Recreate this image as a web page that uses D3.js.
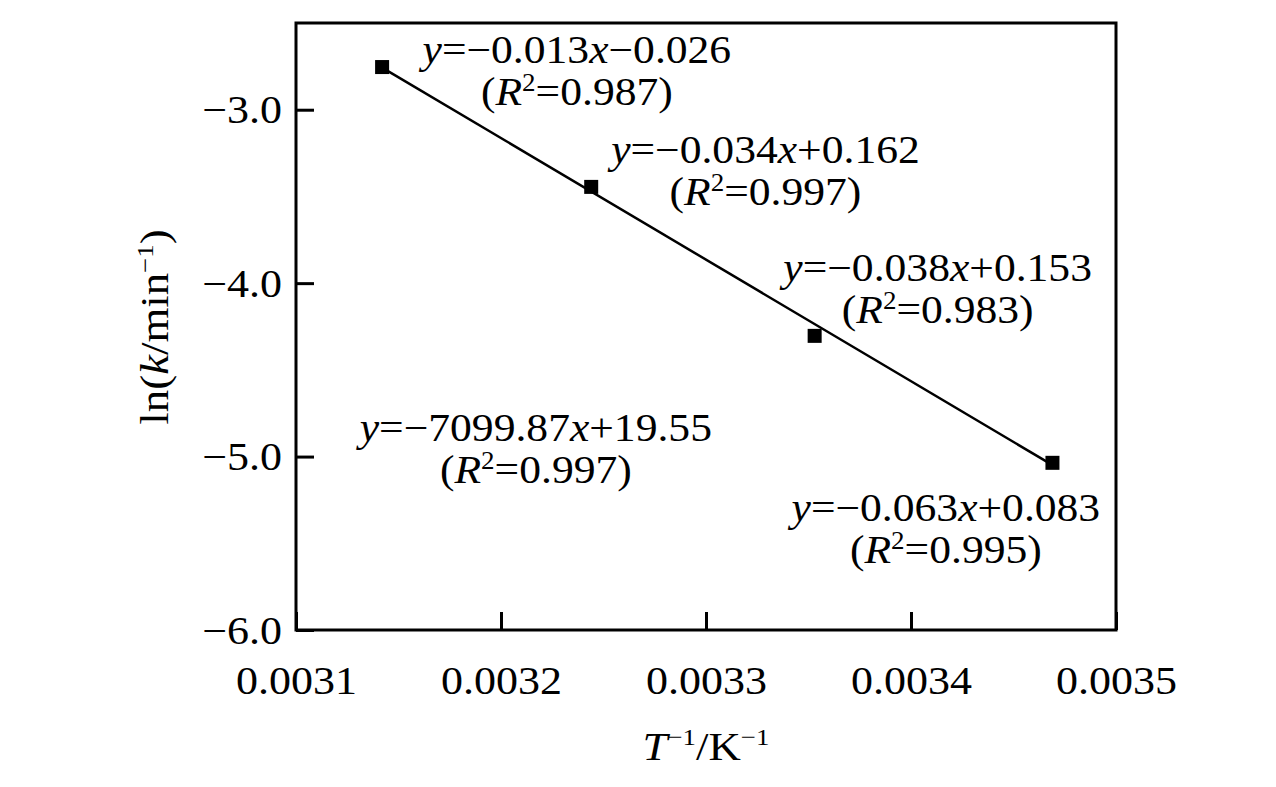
<!DOCTYPE html>
<html>
<head>
<meta charset="utf-8">
<script src="https://cdn.jsdelivr.net/npm/d3@7"></script>
<style>
  html, body { margin: 0; padding: 0; background: #fff; }
  svg text { font-family: "Liberation Serif", "Times New Roman", serif; fill: #000; }
</style>
</head>
<body>
<svg id="chart" width="1276" height="787"></svg>
<script>
// ---- data ----
const invT = [0.003142, 0.003244, 0.003353, 0.003469];      // 1/T (K^-1)
const lnK  = [-2.754, -3.445, -4.304, -5.036];              // ln(k/min^-1)
const fitX = [0.003142, 0.003467];                          // fitted line ends
const fitY = [-2.757, -5.035];
const xTicks = [0.0031, 0.0032, 0.0033, 0.0034, 0.0035];
const yTicks = [-6.0, -5.0, -4.0, -3.0];
// annotation: equation slope / intercept text, R2 text, anchor (data coords)
const annoSlope = ["0.013", "0.034", "0.038", "7099.87", "0.063"];
const annoIntercept = ["\u22120.026", "+0.162", "+0.153", "+19.55", "+0.083"];
const annoR2 = ["0.987", "0.997", "0.983", "0.997", "0.995"];
const annoX = [0.003237, 0.003329, 0.003413, 0.003217, 0.003417];
const annoY = [-2.656, -3.232, -3.912, -4.834, -5.295];

// ---- layout ----
const W = 1276, H = 787;
const m = { left: 296, top: 23, right: 160, bottom: 157 };
const iw = W - m.left - m.right, ih = H - m.top - m.bottom;
const FS = 40;
const SX_TICK = 1.1, SX_ANNO = 1.09, SX_TITLE = 1.12;

const svg = d3.select("#chart");
const g = svg.append("g").attr("transform", `translate(${m.left},${m.top})`);

const x = d3.scaleLinear().domain([0.0031, 0.0035]).range([0, iw]);
const y = d3.scaleLinear().domain([-6.0, -2.5]).range([ih, 0]);

// axes
const xAxis = d3.axisBottom(x).tickValues(xTicks).tickFormat(d3.format(".4f"))
  .tickSizeInner(-18).tickSizeOuter(0).tickPadding(36);
const yAxis = d3.axisLeft(y).tickValues(yTicks).tickFormat(d3.format(".1f"))
  .tickSizeInner(-18).tickSizeOuter(0).tickPadding(14);

const gx = g.append("g").attr("transform", `translate(0,${ih})`).call(xAxis);
const gy = g.append("g").call(yAxis);
[gx, gy].forEach(a => {
  a.select(".domain").remove();
  a.selectAll(".tick line").attr("stroke", "#000").attr("stroke-width", 3);
  a.selectAll(".tick text").attr("font-size", FS).attr("fill", "#000")
    .style("font-family", '"Liberation Serif", "Times New Roman", serif')
    .attr("transform", `scale(${SX_TICK},1)`);
});
gy.selectAll(".tick text").attr("dy", "0.33em").attr("x", -14 / SX_TICK);
gx.selectAll(".tick text").attr("dy", "0.71em");

// frame
g.append("rect").attr("x", 0).attr("y", 0).attr("width", iw).attr("height", ih)
  .attr("fill", "none").attr("stroke", "#000").attr("stroke-width", 3);

// fitted line
g.append("path")
  .datum(fitX.map((v, i) => [v, fitY[i]]))
  .attr("d", d3.line().x(d => x(d[0])).y(d => y(d[1])))
  .attr("fill", "none").attr("stroke", "#000").attr("stroke-width", 2.5);

// points
const S = 14;
g.selectAll("rect.pt").data(invT.map((v, i) => [v, lnK[i]])).join("rect")
  .attr("class", "pt")
  .attr("x", d => x(d[0]) - S / 2).attr("y", d => y(d[1]) - S / 2)
  .attr("width", S).attr("height", S).attr("fill", "#000");

// annotations
annoX.forEach((ax, i) => {
  const cx = x(ax), cy = y(annoY[i]);
  const a1 = g.append("g").attr("transform", `translate(${cx},${cy + 13}) scale(${SX_ANNO},1)`);
  const t1 = a1.append("text").attr("text-anchor", "middle").attr("font-size", FS);
  t1.append("tspan").attr("font-style", "italic").text("y");
  t1.append("tspan").text("=\u2212" + annoSlope[i]);
  t1.append("tspan").attr("font-style", "italic").text("x");
  t1.append("tspan").text(annoIntercept[i]);

  const a2 = g.append("g").attr("transform", `translate(${cx},${cy + 13 + 42}) scale(${SX_ANNO},1)`);
  const t2 = a2.append("text").attr("text-anchor", "middle").attr("font-size", FS);
  t2.append("tspan").text("(");
  t2.append("tspan").attr("font-style", "italic").text("R");
  t2.append("tspan").attr("font-size", FS * 0.62).attr("dy", -14).text("2");
  t2.append("tspan").attr("dy", 14).text("=" + annoR2[i] + ")");
});

// x axis title
const xg = svg.append("g").attr("transform", `translate(${m.left + iw / 2},760) scale(${SX_TITLE},1)`);
const xt = xg.append("text").attr("text-anchor", "middle").attr("font-size", FS);
xt.append("tspan").attr("font-style", "italic").text("T");
xt.append("tspan").attr("font-size", FS * 0.6).attr("dy", -15).text("\u22121");
xt.append("tspan").attr("dy", 15).text("/K");
xt.append("tspan").attr("font-size", FS * 0.6).attr("dy", -15).text("\u22121");

// y axis title
const yg = svg.append("g").attr("transform", `translate(168,327) rotate(-90) scale(${SX_TITLE},1)`);
const yt = yg.append("text").attr("text-anchor", "middle").attr("font-size", FS);
yt.append("tspan").text("ln(");
yt.append("tspan").attr("font-style", "italic").text("k");
yt.append("tspan").text("/min");
yt.append("tspan").attr("font-size", FS * 0.6).attr("dy", -15).text("\u22121");
yt.append("tspan").attr("dy", 15).text(")");
</script>
</body>
</html>
